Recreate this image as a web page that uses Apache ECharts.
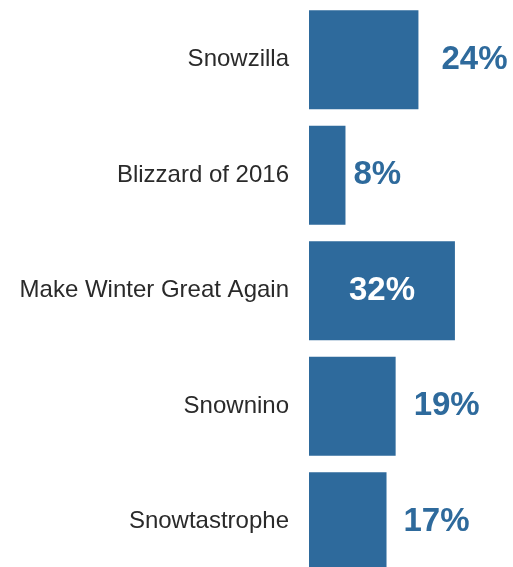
<!DOCTYPE html>
<html>
<head>
<meta charset="utf-8">
<script src="https://cdn.jsdelivr.net/npm/echarts@6/dist/echarts.min.js"></script>
<style>
html,body{margin:0;padding:0;background:#fff;}
#chart{width:513px;height:567px;}
</style>
</head>
<body>
<div id="chart"></div>
<script>
var categories = ["Snowzilla", "Blizzard of 2016", "Make Winter Great Again", "Snownino", "Snowtastrophe"];
var values = [24, 8, 32, 19, 17];
var insideLabel = [false, false, true, false, false];

var labelGaps = [23, 8, 0, 18, 17];
var BLUE = "#2e6a9c";

var chart = echarts.init(document.getElementById('chart'), null, {renderer: 'canvas'});

var seriesData = values.map(function (v, i) {
  var item = {value: v};
  if (insideLabel[i]) {
    item.label = {position: 'inside', color: '#ffffff'};
  } else {
    item.label = {position: 'right', distance: labelGaps[i], color: BLUE};
  }
  return item;
});

chart.setOption({
  animation: false,
  grid: {left: 309, width: 182.4, top: 2, height: 577.5, containLabel: false, outerBoundsMode: 'none'},
  xAxis: {type: 'value', min: 0, max: 40, show: false},
  yAxis: {
    type: 'category',
    data: categories,
    inverse: true,
    axisLine: {show: false},
    axisTick: {show: false},
    axisLabel: {
      margin: 20,
      fontFamily: 'Liberation Sans',
      fontSize: 24,
      color: '#2a2a2a'
    }
  },
  series: [{
    type: 'bar',
    data: seriesData,
    barCategoryGap: '14.5%',
    itemStyle: {color: BLUE},
    label: {
      show: true,
      formatter: '{c}%',
      fontFamily: 'Liberation Sans',
      fontWeight: 'bold',
      fontSize: 33
    }
  }]
});
</script>
</body>
</html>
